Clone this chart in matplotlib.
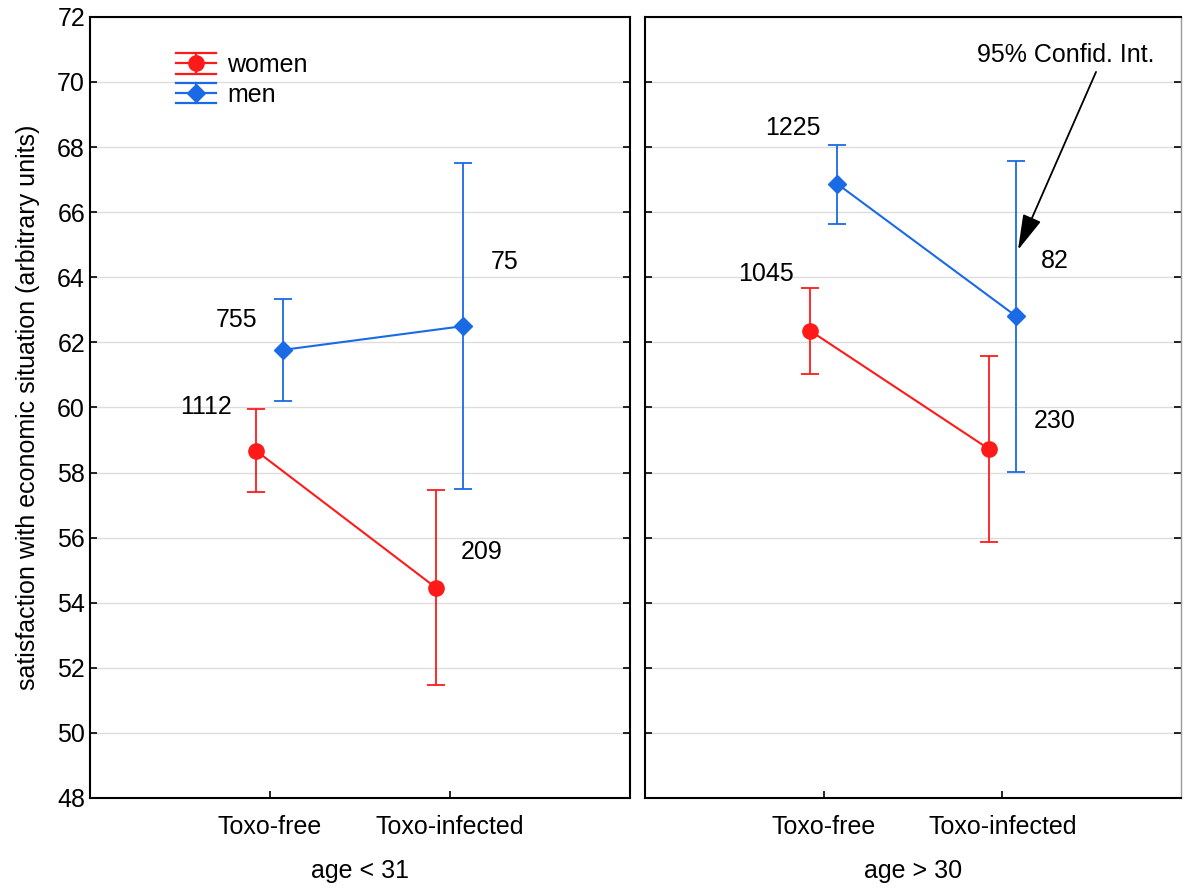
import matplotlib.pyplot as plt
import numpy as np
from matplotlib.lines import Line2D
from matplotlib.legend_handler import HandlerBase

plt.rcParams['font.family'] = ['Liberation Sans', 'DejaVu Sans']

groups = ['Toxo-free', 'Toxo-infected']
panels = ['age < 31', 'age > 30']

# means and 95% CI limits, per panel: [Toxo-free, Toxo-infected]
women_mean = [[58.66, 54.45], [62.35, 58.72]]
women_low = [[57.40, 51.47], [61.03, 55.87]]
women_high = [[59.95, 57.46], [63.67, 61.58]]
men_mean = [[61.77, 62.50], [66.87, 62.81]]
men_low = [[60.20, 57.50], [65.64, 58.02]]
men_high = [[63.33, 67.50], [68.07, 67.57]]

women_n = [['1112', '209'], ['1045', '230']]
men_n = [['755', '75'], ['1225', '82']]

red = '#ff1a1a'
blue = '#1a6ae6'
fs = 18


class StatHandle(HandlerBase):
    # legend key: line with marker plus wide caps above and below
    def create_artists(self, legend, orig, xd, yd, w, h, fontsize, trans):
        c = orig.get_color()
        mid = h / 2 - yd
        gap = h * 0.46
        arts = []
        for yy in (mid - gap, mid, mid + gap):
            arts.append(Line2D([-xd, w - xd], [yy, yy], color=c, lw=1.6))
        arts.append(Line2D([w / 2 - xd] * 2, [mid - gap, mid + gap], color=c, lw=1.6))
        arts.append(Line2D([w / 2 - xd], [mid], marker=orig.get_marker(),
                           ms=orig.get_markersize(), color=c, lw=0))
        for a in arts:
            a.set_transform(trans)
        return arts


fig = plt.figure(figsize=(11.84, 8.9), dpi=100)
ax1 = fig.add_axes([0.076, 0.1034, 0.456, 0.8776])
ax2 = fig.add_axes([0.545, 0.1034, 0.4525, 0.8776])

x = np.arange(len(groups))
off = 0.075

# label offsets (data units) from the point: (dx, dy)
women_lab = [[(-0.28, 1.35), (0.25, 1.11)], [(-0.25, 1.75), (0.365, 0.86)]]
men_lab = [[(-0.26, 0.92), (0.23, 1.97)], [(-0.25, 1.72), (0.22, 1.69)]]

for i, ax in enumerate([ax1, ax2]):
    wm = np.array(women_mean[i])
    mm = np.array(men_mean[i])
    werr = [wm - np.array(women_low[i]), np.array(women_high[i]) - wm]
    merr = [mm - np.array(men_low[i]), np.array(men_high[i]) - mm]
    ax.errorbar(x - off, wm, yerr=werr, color=red, marker='o', ms=11,
                lw=1.5, elinewidth=1.3, capsize=6.5, capthick=1.3, zorder=3)
    ax.errorbar(x + off, mm, yerr=merr, color=blue, marker='D', ms=9,
                lw=1.5, elinewidth=1.3, capsize=6.5, capthick=1.3, zorder=3)

    for j in range(len(groups)):
        dx, dy = women_lab[i][j]
        ax.text(x[j] - off + dx, wm[j] + dy, women_n[i][j], fontsize=fs,
                ha='center', va='center')
        dx, dy = men_lab[i][j]
        ax.text(x[j] + off + dx, mm[j] + dy, men_n[i][j], fontsize=fs,
                ha='center', va='center')

    ax.set_xlim(-1, 2)
    ax.set_ylim(48, 72)
    ax.set_yticks(np.arange(48, 73, 2))
    ax.set_xticks(x)
    ax.set_xticklabels(groups, fontsize=fs)
    ax.set_xlabel(panels[i], fontsize=fs, labelpad=15)
    ax.grid(axis='y', color='#dddddd', lw=1)
    ax.set_axisbelow(True)
    ax.tick_params(axis='both', direction='in', length=5, width=1.2,
                   labelsize=fs, right=True)
    ax.tick_params(axis='x', pad=12)
    for s in ax.spines.values():
        s.set_linewidth(1.5)

ax2.spines['right'].set_color('#999999')
ax2.spines['right'].set_linewidth(1)
ax2.tick_params(axis='y', labelleft=False)
ax1.set_ylabel('satisfaction with economic situation (arbitrary units)',
               fontsize=fs, labelpad=12)

hw = Line2D([], [], color=red, marker='o', ms=11)
hm = Line2D([], [], color=blue, marker='D', ms=9)
ax1.legend([hw, hm], ['women', 'men'], handler_map={Line2D: StatHandle()},
           loc='upper left', bbox_to_anchor=(0.159, 0.955), frameon=False,
           fontsize=fs, handlelength=1.6, handleheight=1.0, handletextpad=0.45,
           labelspacing=0.2, borderaxespad=0, borderpad=0)

ax2.text(1.356, 70.83, '95% Confid. Int.', fontsize=fs, ha='center', va='center')
ax2.annotate('', xy=(1.087, 64.84), xytext=(1.524, 70.31),
             arrowprops=dict(arrowstyle='-|>,head_length=1.1,head_width=0.3',
                             color='black', lw=1.3, mutation_scale=20,
                             shrinkA=0, shrinkB=0))

plt.savefig('out.png', dpi=100)
